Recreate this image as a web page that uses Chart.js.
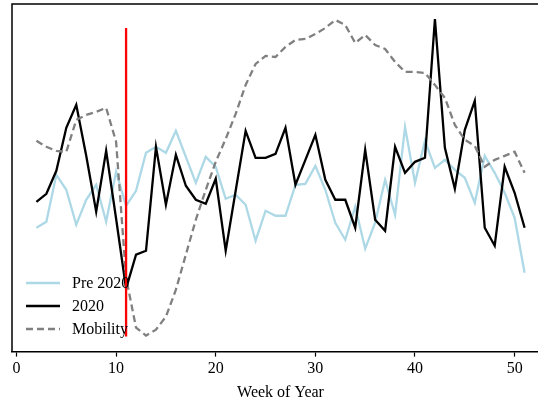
<!DOCTYPE html>
<html>
<head>
<meta charset="utf-8">
<script src="https://cdn.jsdelivr.net/npm/chart.js@4.4.1/dist/chart.umd.min.js"></script>
<style>
  html, body { margin: 0; padding: 0; background: #fff; overflow: hidden; }
  #wrap { width: 550px; height: 402px; }
</style>
</head>
<body>
<div id="wrap"><canvas id="c" width="550" height="402"></canvas></div>
<script>
// ---- data (arbitrary index units) ----
const weeks = [2,3,4,5,6,7,8,9,10,11,12,13,14,15,16,17,18,19,20,21,22,23,24,25,26,27,28,29,30,31,32,33,34,35,36,37,38,39,40,41,42,43,44,45,46,47,48,49,50,51];
const pre2020 = [124,130,177,162,127,152,167,130,180,146,161,199,205,199,221,195,169,195,185,153,157,147,111,141,136,136,167,168,186,162,129,112,145,103,129,172,137,225,169,211,184,192,182,174,149,196,179,159,134,79];
const y2020 = [150,158,181,224,247,196,140,201,133,63,97,101,205,147,197,166,152,148,173,101,161,221,194,194,198,224,167,192,217,172,152,152,124,202,132,121,205,179,190,194,333,204,163,222,251,124,106,185,159,124];
const mobility = [211,205,201,200,232,237,240,244,210,74,24,16,22,35,62,97,132,162,190,213,238,267,288,296,295,305,312,313,318,324,332,327,309,317,307,303,290,280,280,279,267,254,227,212,206,185,192,196,200,179];
const lockdownWeek = 11;
const lockdownSpan = [15, 324];
const xTicks = [0,10,20,30,40,50];
const seriesLabels = ['Pre 2020', '2020', 'Mobility'];
const axisTitle = 'Week of Year';

const toPts = (xs, ys) => xs.map((x, i) => ({x: x, y: ys[i]}));
const FONT = "'Liberation Serif', 'Times New Roman', serif";
const LW = 2.3;

const framePlugin = {
  id: 'frame',
  afterDatasetsDraw(chart) {
    const a = chart.chartArea, ctx = chart.ctx;
    ctx.save();
    ctx.strokeStyle = '#000';
    ctx.lineWidth = 1.5;
    ctx.beginPath();
    ctx.moveTo(a.left, a.bottom);
    ctx.lineTo(a.left, a.top);
    ctx.lineTo(a.right, a.top);
    ctx.lineTo(a.right, a.bottom);
    ctx.stroke();
    ctx.restore();
  }
};

const legendPlugin = {
  id: 'insideLegend',
  afterDraw(chart) {
    const ctx = chart.ctx;
    const rows = [283, 306, 329];
    const dsIdx = [0, 1, 2];
    ctx.save();
    ctx.font = '16px ' + FONT;
    ctx.textBaseline = 'middle';
    ctx.fillStyle = '#000';
    rows.forEach((y, r) => {
      const ds = chart.data.datasets[dsIdx[r]];
      ctx.strokeStyle = ds.borderColor;
      ctx.lineWidth = ds.borderWidth;
      ctx.setLineDash(ds.borderDash || []);
      ctx.beginPath();
      ctx.moveTo(26, y);
      ctx.lineTo(60, y);
      ctx.stroke();
      ctx.setLineDash([]);
      ctx.fillText(ds.label, 72, y + 1);
    });
    ctx.restore();
  }
};

new Chart(document.getElementById('c'), {
  type: 'line',
  data: {
    datasets: [
      { label: seriesLabels[0], data: toPts(weeks, pre2020), borderColor: '#add8e6', borderWidth: LW, pointRadius: 0, tension: 0, order: 3 },
      { label: seriesLabels[1], data: toPts(weeks, y2020), borderColor: '#000000', borderWidth: LW, pointRadius: 0, tension: 0, order: 2 },
      { label: seriesLabels[2], data: toPts(weeks, mobility), borderColor: '#808080', borderWidth: LW, borderDash: [7, 4], pointRadius: 0, tension: 0, order: 1 },
      { label: 'lockdown', data: [{x: lockdownWeek, y: lockdownSpan[0]}, {x: lockdownWeek, y: lockdownSpan[1]}], borderColor: '#ff0000', borderWidth: LW, pointRadius: 0, order: 0 }
    ]
  },
  options: {
    responsive: false,
    animation: false,
    devicePixelRatio: 1,
    layout: { padding: { left: 12, top: 4, right: 1, bottom: 0 } },
    plugins: { legend: { display: false }, tooltip: { enabled: false } },
    scales: {
      x: {
        type: 'linear',
        min: -0.45,
        max: 53.45,
        afterBuildTicks(axis) { axis.ticks = xTicks.map(v => ({value: v})); },
        ticks: { color: '#000', font: { family: FONT, size: 16 }, padding: 3, maxRotation: 0, autoSkip: false },
        grid: { display: true, drawOnChartArea: false, drawTicks: true, tickLength: 5, color: '#000', tickWidth: 1.2 },
        border: { display: true, color: '#000', width: 1.5 },
        title: { display: true, text: axisTitle, color: '#000', font: { family: FONT, size: 16 }, padding: { top: 1, bottom: 0 } }
      },
      y: {
        display: false,
        min: 0,
        max: 348
      }
    }
  },
  plugins: [framePlugin, legendPlugin]
});
</script>
</body>
</html>
